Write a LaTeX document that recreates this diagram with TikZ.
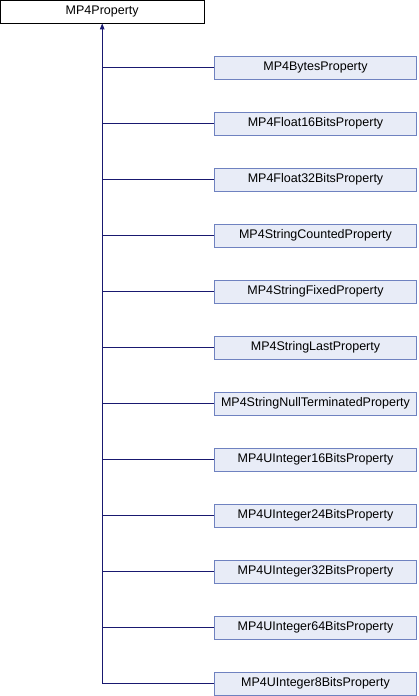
\documentclass[tikz,border=0pt]{standalone}
\usepackage{fontspec}
\setmainfont{Liberation Sans}
\usetikzlibrary{arrows.meta}
\definecolor{edgeblue}{HTML}{191970}
\definecolor{boxfill}{HTML}{E8ECF7}
\definecolor{boxline}{HTML}{6F82C0}
\tikzset{
  basebox/.style={draw=black, fill=white, line width=0.8bp, minimum width=203.5bp, minimum height=22.5bp, inner sep=0pt, font=\fontsize{12.5bp}{14bp}\selectfont},
  childbox/.style={draw=boxline, fill=boxfill, line width=0.8bp, minimum width=202.5bp, minimum height=22.5bp, inner sep=0pt, font=\fontsize{12.5bp}{14bp}\selectfont},
  inherit/.style={draw=edgeblue, line width=0.9bp},
}
\begin{document}
\begin{tikzpicture}[x=1bp,y=-1bp]
\useasboundingbox (0,0) rectangle (418,696);
\fill[white] (0,0) rectangle (418,696);
\node[basebox] (base) at (102.2,11.75) {MP4Property};
\foreach \name [count=\i from 0] in {MP4BytesProperty,MP4Float16BitsProperty,MP4Float32BitsProperty,MP4StringCountedProperty,MP4StringFixedProperty,MP4StringLastProperty,MP4StringNullTerminatedProperty,MP4UInteger16BitsProperty,MP4UInteger24BitsProperty,MP4UInteger32BitsProperty,MP4UInteger64BitsProperty,MP4UInteger8BitsProperty}{
  \node[childbox] (c\i) at (315.5,{67.75+56*\i}) {\name};
  \coordinate (j\i) at (102.2,{67.75+56*\i});
  \draw[inherit] (j\i) -- (c\i.west);
}
\draw[inherit, -{Triangle[width=4.5bp,length=6bp]}] (j11) -- (base.south);
\end{tikzpicture}
\end{document}
